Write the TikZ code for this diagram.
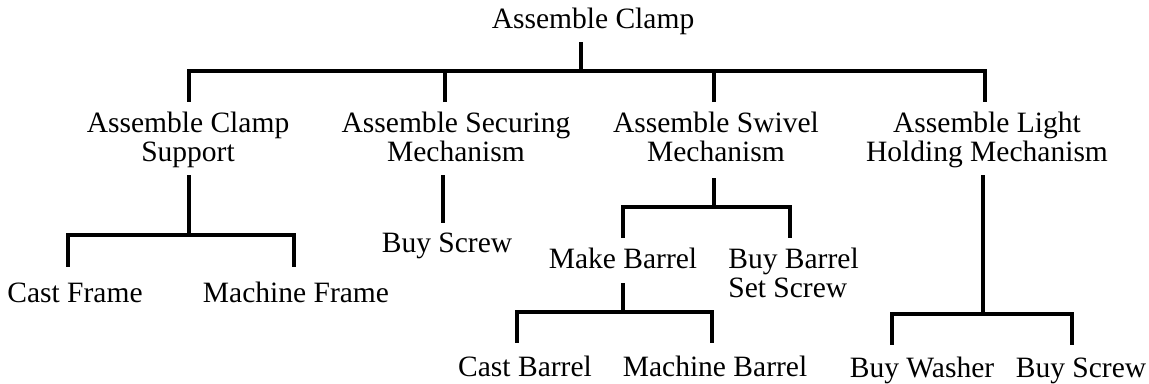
\documentclass[tikz,border=0pt]{standalone}
\usepackage{fontspec}
\setmainfont{Liberation Serif}
\usetikzlibrary{calc}
\tikzset{
  task/.style={
    font=\fontsize{16.8}{16.5}\selectfont,
    inner sep=0pt,
    anchor=base,
    align=center
  },
  link/.style={draw=black, line width=2pt},
}
% #1 parent, #2 drop to the bar, #3 left child, #4 right child
\newcommand{\Fork}[4]{%
  \draw[link] (#1-s) -- ++(0,#2) coordinate (#1-j) -| (#3-n);
  \draw[link] (#1-j) -| (#4-n);
}

\begin{document}
\begin{tikzpicture}[x=0.02cm, y=-0.02cm]
  \useasboundingbox (0,0) rectangle (1149,383);

  % tasks (two-line ones sit on their last line)
  \node[task] (root)  at (593,28)  {Assemble Clamp};
  \node[task] (sup)   at (188,161) {Assemble Clamp\\Support};
  \node[task] (sec)   at (456,161) {Assemble Securing\\Mechanism};
  \node[task] (swv)   at (716,161) {Assemble Swivel\\Mechanism};
  \node[task] (lgt)   at (987,161) {Assemble Light\\Holding Mechanism};
  \node[task] (castf) at (75,302)  {Cast Frame};
  \node[task] (machf) at (296,302) {Machine Frame};
  \node[task] (buys)  at (447,252) {Buy Screw};
  \node[task] (makeb) at (623,268) {Make Barrel};
  \node[task, anchor=base west, align=left] (buyb) at (728,297) {Buy Barrel\\Set Screw};
  \node[task] (castb) at (525,376) {Cast Barrel};
  \node[task] (machb) at (715,376) {Machine Barrel};
  \node[task] (wash)  at (922,377) {Buy Washer};
  \node[task] (buys2) at (1081,377) {Buy Screw};

  % stub ends above (-n) and below (-s) the tasks
  \foreach \n/\x/\y in {root-s/581/42, sup-n/189/102, sup-s/189/175,
      sec-n/445/102, sec-s/443/175, swv-n/714/102, swv-s/714/178,
      lgt-n/985/102, lgt-s/983/175, castf-n/68/267, machf-n/294/267,
      buys-n/443/223, makeb-n/623/238, makeb-s/623/283, buyb-n/790/238,
      castb-n/517/343, machb-n/712/343, wash-n/892/345, buys2-n/1072/345}
    \coordinate (\n) at (\x,\y);

  % connectors
  \Fork{root}{29}{sup}{lgt}
  \draw[link] (sec-n) -- (sec-n |- root-j);
  \draw[link] (swv-n) -- (swv-n |- root-j);
  \Fork{sup}{60}{castf}{machf}
  \draw[link] (sec-s) -- (buys-n);
  \Fork{swv}{29}{makeb}{buyb}
  \Fork{makeb}{29}{castb}{machb}
  \Fork{lgt}{139}{wash}{buys2}
\end{tikzpicture}
\end{document}
